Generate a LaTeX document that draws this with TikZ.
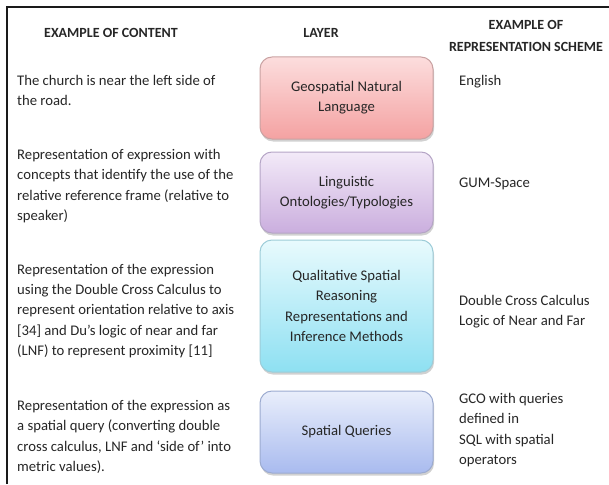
\documentclass[tikz,border=0pt]{standalone}
\usepackage{fontspec}
\setmainfont{Carlito}
\usepackage{tikz}
\usetikzlibrary{shadows}
\definecolor{txt}{HTML}{262626}
\definecolor{frame}{HTML}{1A1A1A}
\definecolor{redtop}{HTML}{FCDDDD}
\definecolor{redbot}{HTML}{F4A2A2}
\definecolor{redline}{HTML}{C9A2A2}
\definecolor{purtop}{HTML}{F3EAF8}
\definecolor{purbot}{HTML}{CAAEDE}
\definecolor{purline}{HTML}{B5A5C6}
\definecolor{cyantop}{HTML}{E8FAFD}
\definecolor{cyanbot}{HTML}{8EE0F2}
\definecolor{cyanline}{HTML}{9DCCD8}
\definecolor{bluetop}{HTML}{E9EEFB}
\definecolor{bluebot}{HTML}{A9BBEF}
\definecolor{blueline}{HTML}{9CABD0}

\begin{document}
\begin{tikzpicture}[x=1pt,y=-1pt,
    every node/.style={font=\fontsize{14.7}{20.2}\selectfont, text=txt, inner sep=0pt},
    head/.style={font=\fontsize{14}{22}\selectfont\bfseries, align=center},
    content/.style={anchor=west, align=left},
    scheme/.style={anchor=west, align=left},
    layer/.style={rounded corners=12pt, minimum width=173pt, align=center, line width=1pt,
        drop shadow={shadow xshift=1pt, shadow yshift=-2.5pt, opacity=0.3, fill=black!60}}]
    \useasboundingbox (0,0) rectangle (609,484);
    \draw[frame, line width=2pt] (7,484) -- (7,7) -- (609,7);
    % column heads
    \node[head] (hcontent) at (111,33) {EXAMPLE OF CONTENT};
    \node[head] (hlayer) at (321,33) {LAYER};
    \node[head] (hscheme) at (526,36) {EXAMPLE OF\\REPRESENTATION SCHEME};
    % layers
    \node[layer, draw=redline, top color=redtop, bottom color=redbot, minimum height=82pt]
        (layer1) at (346.5,98) {Geospatial Natural\\Language};
    \node[layer, draw=purline, top color=purtop, bottom color=purbot, minimum height=81pt]
        (layer2) at (346.5,192.5) {Linguistic\\Ontologies/Typologies};
    \node[layer, draw=cyanline, top color=cyantop, bottom color=cyanbot, minimum height=132pt]
        (layer3) at (346.5,306) {Qualitative Spatial\\Reasoning\\Representations and\\Inference Methods};
    \node[layer, draw=blueline, top color=bluetop, bottom color=bluebot, minimum height=82pt]
        (layer4) at (346.5,432) {Spatial Queries};
    % examples of content
    \node[content] (content1) at (17,90.5) {The church is near the left side of\\the road.};
    \node[content] (content2) at (17,186) {Representation of expression with\\concepts that identify the use of the\\relative reference frame (relative to\\speaker)};
    \node[content] (content3) at (17,311) {Representation of the expression\\using the Double Cross Calculus to\\represent orientation relative to axis\\{[34]} and Du’s logic of near and far\\(LNF) to represent proximity [11]};
    \node[content] (content4) at (17,437) {Representation of the expression as\\a spatial query (converting double\\cross calculus, LNF and ‘side of’ into\\metric values).};
    % representation schemes
    \node[scheme] (scheme1) at (459,82) {English};
    \node[scheme] (scheme2) at (459,184) {GUM-Space};
    \node[scheme] (scheme3) at (459,312) {Double Cross Calculus\\Logic of Near and Far};
    \node[scheme] (scheme4) at (459,430) {GCO with queries\\defined in\\SQL with spatial\\operators};
\end{tikzpicture}
\end{document}
